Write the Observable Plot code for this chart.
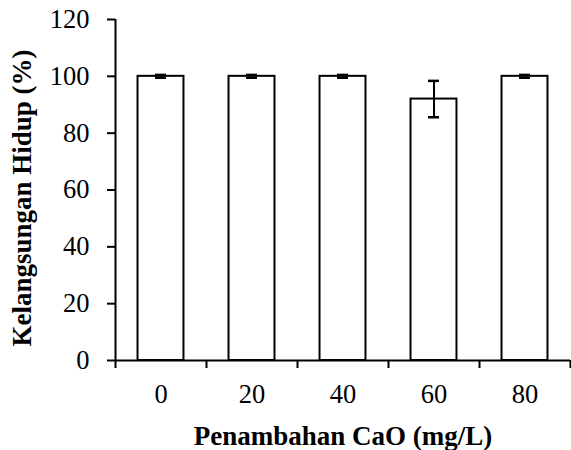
<!DOCTYPE html>
<html><head><meta charset="utf-8">
<script src="https://cdn.jsdelivr.net/npm/d3@7"></script>
<script src="https://cdn.jsdelivr.net/npm/@observablehq/plot@0.6"></script>
<style>body{margin:0;background:#fff} svg text{font-family:'Liberation Serif','Times New Roman',serif;}</style>
</head><body><div id="chart"></div>
<script>
const doses = [0, 20, 40, 60, 80];
const survival = [100, 100, 100, 92, 100];
const errors = [0.5, 0.5, 0.5, 6.4, 0.5];
const yTicks = [0, 20, 40, 60, 80, 100, 120];
const xLabel = "Penambahan CaO (mg/L)";
const yLabel = "Kelangsungan Hidup (%)";

const data = doses.map((d, i) => ({dose: d, value: survival[i], err: errors[i]}));
const bandHalf = 10, barHalf = 5.05, capHalf = 1.2;
const boundaries = [-1, 0, 1, 2, 3, 4].map(i => i * 20 + bandHalf);

const font = "'Liberation Serif', 'Times New Roman', serif";
const chart = Plot.plot({
  width: 571, height: 450,
  marginLeft: 115, marginRight: 1, marginTop: 19, marginBottom: 90,
  style: {fontFamily: font, fontSize: "26px", color: "#000", background: "#fff"},
  x: {type: "linear", domain: [-10, 90]},
  y: {type: "linear", domain: [0, 120]},
  marks: [
    Plot.rectY(data, {x1: d => d.dose - barHalf, x2: d => d.dose + barHalf, y: "value", fill: "white", stroke: "black", strokeWidth: 2}),
    Plot.ruleX(data, {x: "dose", y1: d => d.value - d.err, y2: d => d.value + d.err, stroke: "black", strokeWidth: 2}),
    Plot.ruleY(data, {y: d => d.value + d.err, x1: d => d.dose - capHalf, x2: d => d.dose + capHalf, stroke: "black", strokeWidth: 2.5}),
    Plot.ruleY(data, {y: d => d.value - d.err, x1: d => d.dose - capHalf, x2: d => d.dose + capHalf, stroke: "black", strokeWidth: 2.5}),
    Plot.axisY({ticks: yTicks, tickSize: 8, tickPadding: 18, strokeWidth: 2, label: null, fontSize: 26.5, fontFamily: font, fontVariant: "normal"}),
    Plot.axisX({ticks: boundaries, tickSize: 8, tickFormat: () => "", strokeWidth: 2, label: null}),
    Plot.axisX({ticks: doses, tickSize: 0, tickPadding: 24, label: null, fontSize: 26.5, fontFamily: font, fontVariant: "normal"}),
    Plot.ruleX([-10], {y1: 0, y2: 120, stroke: "black", strokeWidth: 2}),
    Plot.ruleY([0], {stroke: "black", strokeWidth: 2}),
    Plot.text([xLabel], {frameAnchor: "bottom", textAnchor: "middle", dy: 84, lineAnchor: "bottom", fontWeight: "bold", fontSize: 27, fontFamily: font}),
    Plot.text([yLabel], {frameAnchor: "left", textAnchor: "middle", dx: -93, dy: 8, rotate: -90, fontWeight: "bold", fontSize: 27, fontFamily: font})
  ]
});
document.getElementById("chart").appendChild(chart);
</script></body></html>
